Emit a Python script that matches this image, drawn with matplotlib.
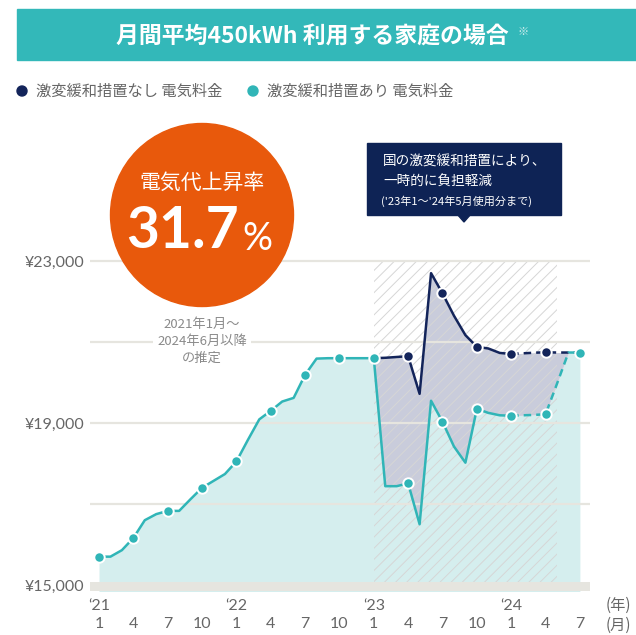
import matplotlib.pyplot as plt
import matplotlib.transforms as mtransforms
from matplotlib.patches import Circle, Rectangle, Polygon

plt.rcParams["font.family"] = ["Noto Sans CJK JP", "DejaVu Sans"]
plt.rcParams["hatch.linewidth"] = 0.7

# months since Jan 2021 (0 .. 42 = Jul 2024)
months = list(range(43))

# electricity bill with relief measures (teal)
with_relief = [
    15700, 15700, 15860, 16160, 16600, 16750, 16830, 16830, 17120, 17400, 17570, 17740,
    18050, 18580, 19090, 19300, 19530, 19620, 20190, 20590, 20600, 20600, 20600, 20600,
    20600, 17440, 17440, 17510, 16500, 19550, 19030, 18420, 18020, 19350, 19250, 19190,
    19180, 19190, 19200, 19215, 19970, 20740, 20740,
]

# electricity bill without relief measures (navy), from Jan 2023
no_relief_months = list(range(24, 43))
no_relief = [
    20600, 20610, 20630, 20650, 19720, 22700, 22200, 21650, 21170, 20880, 20840, 20730,
    20704, 20720, 20735, 20746, 20740, 20740, 20740,
]

estimate_from = 36  # dashed from here on
relief_period = (24, 40)

yticks = [15000, 19000, 23000]
ytick_labels = ["¥15,000", "¥19,000", "¥23,000"]
gridlines = [17000, 19000, 21000, 23000]
xticks = list(range(0, 43, 3))
month_labels = ["1", "4", "7", "10"] * 3 + ["1", "4", "7"]
year_labels = {0: "‘21", 12: "‘22", 24: "‘23", 36: "‘24"}

TEAL = "#30b5b7"
TEAL_FILL = "#d5eeee"
NAVY = "#13245a"
NAVY_FILL = "#c9ccdb"
ORANGE = "#e8590c"
GRID = "#e6e5df"
TEXT = "#666666"

W, H = 636, 635
fig = plt.figure(figsize=(W / 100, H / 100), dpi=100)
# pixel coords (origin top-left) -> figure
pix = mtransforms.Affine2D().scale(1 / W, -1 / H).translate(0, 1) + fig.transFigure

# plot area: month 0 at x=99px, 11.45 px per month; 23000 at y=261px, 40.5 px per 1000
ax = fig.add_axes([90 / W, (H - 591) / H, 500 / W, (591 - 250) / H])
ax.set_xlim((90 - 99) / 11.45, (590 - 99) / 11.45)
ax.set_ylim(23000 - (591 - 261) / 0.0405, 23000 + (261 - 250) / 0.0405)

ax.fill_between(months, with_relief, 14800, color=TEAL_FILL, lw=0, zorder=1)
ax.fill_between(no_relief_months, no_relief, with_relief[24:], color=NAVY_FILL, lw=0, zorder=1.2)
ax.fill_between(relief_period, 23000, 15000, facecolor="none", edgecolor="#d6d6d6",
                hatch="///", lw=0, zorder=1.5)

for g in gridlines:
    ax.axhline(g, color=GRID, lw=1.6, zorder=1.8)
ax.axhspan(14850, 15075, color=GRID, lw=0, zorder=1.9)

e = estimate_from
ax.plot(no_relief_months[: e - 24 + 1], no_relief[: e - 24 + 1], color=NAVY, lw=1.8, zorder=3)
ax.plot(no_relief_months[e - 24:], no_relief[e - 24:], color=NAVY, lw=1.8, ls=(0, (3, 2)), zorder=3)
ax.plot(months[: e + 1], with_relief[: e + 1], color=TEAL, lw=1.8, zorder=3.1)
ax.plot(months[e:], with_relief[e:], color=TEAL, lw=1.8, ls=(0, (3, 2)), zorder=3.1)

nav_mk = [m for m in no_relief_months if m % 3 == 0 and 24 < m < 42]
ax.plot(nav_mk, [no_relief[m - 24] for m in nav_mk], "o", color=NAVY, ms=7.5,
        mec="white", mew=1.4, zorder=4)
ax.plot(xticks, [with_relief[m] for m in xticks], "o", color=TEAL, ms=7.5,
        mec="white", mew=1.4, zorder=4.1)

for s in ax.spines.values():
    s.set_visible(False)
ax.set_yticks(yticks, ytick_labels)
ax.set_xticks(xticks, [f"{year_labels.get(m, '')}\n{lab}" for m, lab in zip(xticks, month_labels)])
ax.tick_params(length=0, colors=TEXT, labelsize=11.5)
ax.tick_params(axis="y", pad=4)
ax.tick_params(axis="x", pad=6)
for lab in ax.get_xticklabels():
    lab.set_linespacing(1.35)
    lab.set_family(["Lato", "Noto Sans CJK JP"])
for lab in ax.get_yticklabels():
    lab.set_family(["Lato", "Noto Sans CJK JP"])

fig.text(618, 605, "(年)", transform=pix, ha="center", va="center", color=TEXT, fontsize=11)
fig.text(618, 625, "(月)", transform=pix, ha="center", va="center", color=TEXT, fontsize=11)

# title banner
fig.patches.append(Rectangle((17, 9), 640, 51, transform=pix, color="#33b8b9", zorder=0))
fig.text(312, 36, "月間平均450kWh 利用する家庭の場合", transform=pix, ha="center",
         va="center", color="white", fontsize=16.5, fontweight="bold")
fig.text(523, 32, "※", transform=pix, ha="center", va="center", color="#d8f0f0", fontsize=8)

# legend
fig.patches.append(Circle((22, 91), 5, transform=pix, color=NAVY))
fig.text(36, 91, "激変緩和措置なし 電気料金", transform=pix, va="center", color=TEXT, fontsize=11)
fig.patches.append(Circle((253, 91), 5, transform=pix, color=TEAL))
fig.text(267, 91, "激変緩和措置あり 電気料金", transform=pix, va="center", color=TEXT, fontsize=11)

# orange badge
fig.patches.append(Circle((202, 215), 91.5, transform=pix, color=ORANGE, zorder=5))
fig.text(202, 183, "電気代上昇率", transform=pix, ha="center", va="center",
         color="white", fontsize=15, zorder=6)
fig.text(183, 231, "31.7", transform=pix, ha="center", va="center", color="white",
         fontsize=41, fontweight="bold", family="Lato", zorder=6)
fig.text(257, 239, "%", transform=pix, ha="center", va="center", color="white",
         fontsize=27, family="Lato", zorder=6)
fig.text(202, 341, "2021年1月～\n2024年6月以降\nの推定", transform=pix, ha="center",
         va="center", color="#8a8a8a", fontsize=9.5, linespacing=1.4, zorder=6,
         bbox=dict(facecolor="white", edgecolor="none", pad=3))

# callout box
fig.patches.append(Rectangle((367, 143), 194, 72, transform=pix, color="#0e2355", zorder=5))
fig.patches.append(Polygon([(457, 214), (471, 214), (464, 222)], closed=True,
                           transform=pix, color="#0e2355", zorder=5))
fig.text(383, 162, "国の激変緩和措置により、", transform=pix, va="center",
         color="white", fontsize=9.8, zorder=6)
fig.text(383, 182, "一時的に負担軽減", transform=pix, va="center",
         color="white", fontsize=9.8, zorder=6)
fig.text(381, 201, "('23年1～'24年5月使用分まで)", transform=pix, va="center",
         color="white", fontsize=8, zorder=6)

fig.savefig("out.png", dpi=100)
